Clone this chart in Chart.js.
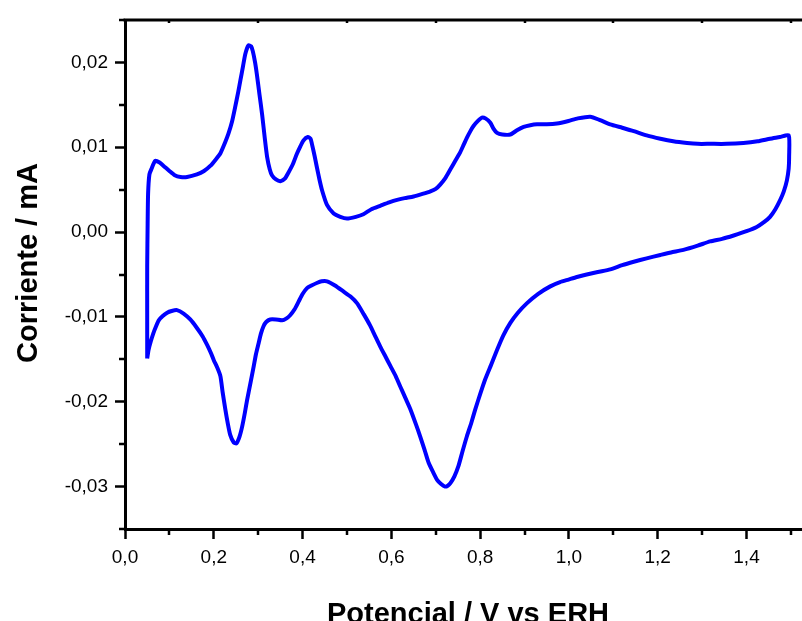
<!DOCTYPE html>
<html>
<head>
<meta charset="utf-8">
<script src="https://cdn.jsdelivr.net/npm/chart.js@4"></script>
<style>
  html, body { margin: 0; padding: 0; background: #fff; }
  #contenedor { width: 802px; height: 621px; }
</style>
</head>
<body>
<div id="contenedor"><canvas id="graficoVC" width="802" height="621"></canvas></div>
<script>
// Barrido anodico (de 0,05 V a 1,5 V)
const potencialAnodico = [
    0.050, 0.050, 0.050, 0.051, 0.052, 0.055, 0.060, 0.068, 0.078, 0.087,
    0.100, 0.112, 0.125, 0.140, 0.162, 0.178, 0.192, 0.205, 0.215, 0.225,
    0.233, 0.241, 0.248, 0.255, 0.260, 0.266, 0.271, 0.278, 0.284, 0.288,
    0.293, 0.297, 0.303, 0.309, 0.315, 0.320, 0.326, 0.331, 0.340, 0.350,
    0.360, 0.368, 0.378, 0.387, 0.395, 0.402, 0.412, 0.418, 0.421, 0.427,
    0.432, 0.438, 0.444, 0.455, 0.470, 0.485, 0.500, 0.520, 0.537, 0.555,
    0.575, 0.595, 0.613, 0.630, 0.650, 0.670, 0.688, 0.700, 0.710, 0.722,
    0.733, 0.745, 0.755, 0.763, 0.770, 0.778, 0.785, 0.795, 0.804, 0.812,
    0.823, 0.830, 0.838, 0.850, 0.868, 0.883, 0.898, 0.913, 0.928, 0.950,
    0.973, 0.999, 1.020, 1.048, 1.070, 1.093, 1.120, 1.146, 1.175, 1.206,
    1.235, 1.266, 1.290, 1.318, 1.355, 1.393, 1.425, 1.453, 1.475, 1.495
];
const corrienteAnodica = [
    -0.0149, -0.0100, -0.0040, 0.0010, 0.0045, 0.0068, 0.0075, 0.0084, 0.0082, 0.0078,
    0.0072, 0.0067, 0.0065, 0.0065, 0.0068, 0.0072, 0.0078, 0.0086, 0.0093, 0.0105,
    0.0116, 0.0130, 0.0147, 0.0165, 0.0179, 0.0196, 0.0210, 0.0220, 0.0219, 0.0213,
    0.0200, 0.0186, 0.0162, 0.0138, 0.0110, 0.0089, 0.0074, 0.0067, 0.0062, 0.0060,
    0.0063, 0.0070, 0.0080, 0.0092, 0.0101, 0.0108, 0.0112, 0.0110, 0.0104, 0.0090,
    0.0077, 0.0062, 0.0049, 0.0032, 0.0022, 0.0018, 0.0016, 0.0018, 0.0021, 0.0027,
    0.0031, 0.0035, 0.0038, 0.0040, 0.0042, 0.0045, 0.0048, 0.0051, 0.0056, 0.0064,
    0.0074, 0.0085, 0.0094, 0.0103, 0.0111, 0.0119, 0.0125, 0.0131, 0.0135, 0.0134,
    0.0129, 0.0122, 0.0117, 0.0115, 0.0115, 0.0120, 0.0124, 0.0126, 0.0127, 0.0127,
    0.0128, 0.0131, 0.0134, 0.0136, 0.0132, 0.0127, 0.0123, 0.0119, 0.0114, 0.0110,
    0.0107, 0.0105, 0.0104, 0.0104, 0.0104, 0.0105, 0.0107, 0.0110, 0.0112, 0.0114
];

// Barrido catodico (de 1,5 V de vuelta a 0,05 V)
const potencialCatodico = [
    1.496, 1.495, 1.491, 1.484, 1.476, 1.465, 1.453, 1.440, 1.423, 1.400,
    1.371, 1.345, 1.318, 1.290, 1.258, 1.230, 1.206, 1.175, 1.146, 1.120,
    1.093, 1.065, 1.040, 1.018, 0.999, 0.980, 0.958, 0.930, 0.905, 0.885,
    0.868, 0.852, 0.838, 0.825, 0.811, 0.800, 0.789, 0.780, 0.770, 0.760,
    0.751, 0.742, 0.733, 0.727, 0.721, 0.712, 0.703, 0.694, 0.684, 0.675,
    0.665, 0.655, 0.643, 0.632, 0.620, 0.610, 0.598, 0.587, 0.575, 0.563,
    0.552, 0.538, 0.523, 0.508, 0.492, 0.473, 0.455, 0.443, 0.432, 0.420,
    0.410, 0.400, 0.391, 0.382, 0.372, 0.363, 0.354, 0.340, 0.327, 0.318,
    0.312, 0.306, 0.301, 0.295, 0.290, 0.283, 0.275, 0.270, 0.264, 0.258,
    0.251, 0.245, 0.237, 0.231, 0.226, 0.220, 0.215, 0.208, 0.200, 0.193,
    0.185, 0.175, 0.162, 0.147, 0.132, 0.117, 0.105, 0.095, 0.085, 0.076,
    0.070, 0.064, 0.058, 0.053, 0.050
];
const corrienteCatodica = [
    0.0089, 0.0075, 0.0061, 0.0048, 0.0038, 0.0027, 0.0018, 0.0012, 0.0006, 0.0001,
    -0.0004, -0.0008, -0.0011, -0.0016, -0.0021, -0.0024, -0.0027, -0.0031, -0.0035, -0.0039,
    -0.0044, -0.0047, -0.0050, -0.0053, -0.0056, -0.0059, -0.0064, -0.0073, -0.0084, -0.0095,
    -0.0107, -0.0122, -0.0139, -0.0156, -0.0174, -0.0191, -0.0209, -0.0225, -0.0241, -0.0259,
    -0.0276, -0.0288, -0.0296, -0.0299, -0.0300, -0.0297, -0.0292, -0.0283, -0.0272, -0.0257,
    -0.0241, -0.0226, -0.0209, -0.0196, -0.0182, -0.0170, -0.0158, -0.0147, -0.0135, -0.0122,
    -0.0110, -0.0097, -0.0084, -0.0076, -0.0070, -0.0063, -0.0058, -0.0058, -0.0060, -0.0063,
    -0.0066, -0.0073, -0.0082, -0.0091, -0.0098, -0.0102, -0.0104, -0.0103, -0.0103, -0.0106,
    -0.0111, -0.0120, -0.0131, -0.0144, -0.0158, -0.0177, -0.0198, -0.0213, -0.0229, -0.0241,
    -0.0249, -0.0248, -0.0239, -0.0224, -0.0209, -0.0189, -0.0170, -0.0160, -0.0151, -0.0142,
    -0.0133, -0.0123, -0.0113, -0.0103, -0.0096, -0.0092, -0.0093, -0.0095, -0.0099, -0.0104,
    -0.0111, -0.0119, -0.0129, -0.0139, -0.0149
];

// Marcas con etiqueta
const ticksMayoresX = [0, 0.2, 0.4, 0.6, 0.8, 1.0, 1.2, 1.4];
const ticksMayoresY = [-0.03, -0.02, -0.01, 0, 0.01, 0.02];

const tituloX = 'Potencial / V vs ERH';
const tituloY = 'Corriente / mA';

document.addEventListener("DOMContentLoaded", function () {
    const fuente = "'Liberation Sans', Arial, sans-serif";

    const puntos = [];
    potencialAnodico.forEach((v, i) => puntos.push({ x: v, y: corrienteAnodica[i] }));
    potencialCatodico.forEach((v, i) => puntos.push({ x: v, y: corrienteCatodica[i] }));

    const esMayor = (valor, lista) => lista.some(t => Math.abs(t - valor) < 1e-6);

    // marcas menores, borde superior y titulos de los ejes
    const extras = {
        id: 'extras',
        afterDraw(chart) {
            const { ctx, chartArea, scales } = chart;
            ctx.save();
            ctx.strokeStyle = '#000';
            ctx.lineWidth = 2.5;
            ctx.beginPath();
            scales.x.ticks.forEach(t => {
                if (esMayor(t.value, ticksMayoresX)) return;
                const px = Math.round(scales.x.getPixelForValue(t.value));
                ctx.moveTo(px, chartArea.bottom);
                ctx.lineTo(px, chartArea.bottom + 6);
                ctx.moveTo(px, chartArea.top);
                ctx.lineTo(px, chartArea.top + 3);
            });
            scales.y.ticks.forEach(t => {
                if (esMayor(t.value, ticksMayoresY)) return;
                const py = Math.round(scales.y.getPixelForValue(t.value));
                ctx.moveTo(chartArea.left, py);
                ctx.lineTo(chartArea.left - 6, py);
            });
            ctx.stroke();

            ctx.lineWidth = 3;
            ctx.beginPath();
            ctx.moveTo(chartArea.left - 1.5, chartArea.top);
            ctx.lineTo(chartArea.right, chartArea.top);
            ctx.stroke();

            ctx.fillStyle = '#000';
            ctx.font = "bold 29px " + fuente;
            ctx.textAlign = 'center';
            ctx.textBaseline = 'alphabetic';
            ctx.fillText(tituloX, 468, 623);
            ctx.translate(37, 263);
            ctx.rotate(-Math.PI / 2);
            ctx.fillText(tituloY, 0, 0);
            ctx.restore();
        }
    };

    const ctx = document.getElementById("graficoVC").getContext("2d");
    new Chart(ctx, {
        type: 'scatter',
        data: {
            datasets: [{
                data: puntos,
                showLine: true,
                borderColor: '#0000ff',
                borderWidth: 4,
                pointRadius: 0,
                tension: 0.2,
                fill: false
            }]
        },
        options: {
            responsive: false,
            animation: false,
            layout: { padding: { top: 20, right: 0, bottom: 0, left: 0 } },
            plugins: {
                legend: { display: false },
                tooltip: { enabled: false }
            },
            scales: {
                x: {
                    type: 'linear',
                    position: 'bottom',
                    min: 0,
                    max: 1.525,
                    afterFit: s => { s.height = 92; },
                    border: { display: true, width: 3, color: '#000' },
                    grid: {
                        drawOnChartArea: false,
                        tickLength: 10,
                        tickWidth: 2.5,
                        tickColor: c => esMayor(c.tick.value, ticksMayoresX) ? '#000' : 'rgba(0,0,0,0)'
                    },
                    ticks: {
                        stepSize: 0.1,
                        includeBounds: false,
                        autoSkip: false,
                        maxRotation: 0,
                        padding: 7,
                        color: '#000',
                        font: { family: fuente, size: 19 },
                        callback: v => esMayor(v, ticksMayoresX) ? v.toFixed(1).replace('.', ',') : ''
                    }
                },
                y: {
                    type: 'linear',
                    min: -0.035,
                    max: 0.025,
                    afterFit: s => { s.width = 125; },
                    border: { display: true, width: 3, color: '#000' },
                    grid: {
                        drawOnChartArea: false,
                        tickLength: 10,
                        tickWidth: 2.5,
                        tickColor: c => esMayor(c.tick.value, ticksMayoresY) ? '#000' : 'rgba(0,0,0,0)'
                    },
                    ticks: {
                        stepSize: 0.005,
                        autoSkip: false,
                        padding: 7,
                        color: '#000',
                        font: { family: fuente, size: 19 },
                        callback: v => esMayor(v, ticksMayoresY) ? (Math.abs(v) < 1e-9 ? 0 : v).toFixed(2).replace('.', ',') : ''
                    }
                }
            }
        },
        plugins: [extras]
    });
});
</script>
</body>
</html>
